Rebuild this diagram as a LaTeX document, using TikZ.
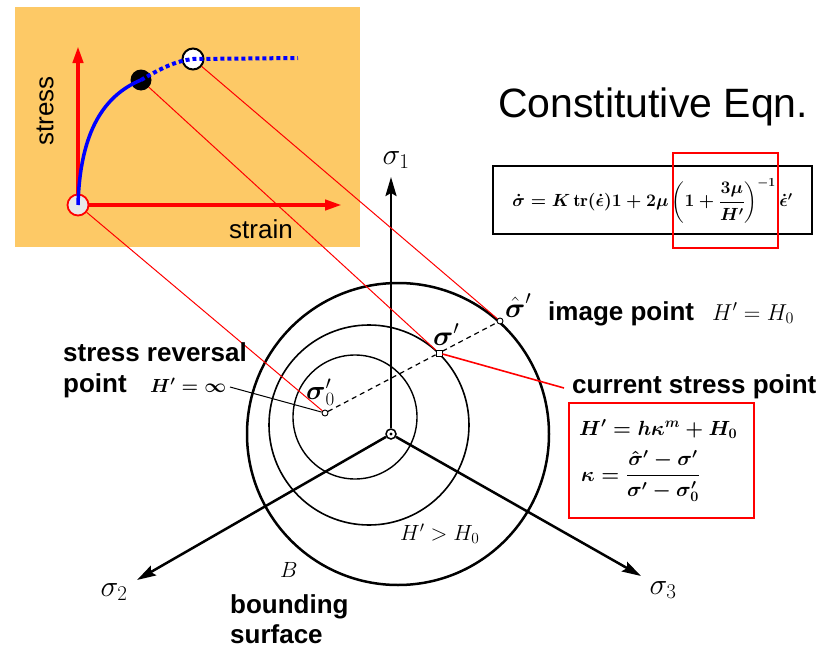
\RequirePackage{fix-cm}
\documentclass[tikz,border=0pt]{standalone}
\usepackage{amsmath}
\usepackage{fontspec}
\newfontfamily\arial{Liberation Sans}
\usetikzlibrary{arrows.meta}
\definecolor{bgorange}{RGB}{253,201,102}
\definecolor{origfill}{RGB}{232,232,232}
\newcommand{\fsz}[1]{\fontsize{#1}{#1}\selectfont}
\newcommand{\bsig}{\boldsymbol{\sigma}}
\newcommand{\beps}{\boldsymbol{\epsilon}}
\begin{document}
\begin{tikzpicture}[x=1pt,y=-1pt,
  redaxis/.style={draw=red,line width=4pt,-{Triangle[length=17pt,width=10pt]}},
  blackaxis/.style={draw=black,line width=2.5pt,-{Stealth[length=19pt,width=11pt,inset=3pt]}},
  markc/.style={circle,draw,fill=white,inner sep=0pt,minimum size=6pt,line width=0.9pt},
  marks/.style={rectangle,draw,fill=white,inner sep=0pt,minimum size=6pt,line width=0.9pt},
  txt/.style={inner sep=0pt},
  sanslbl/.style={txt,font=\arial\fsz{26}},
  boldlbl/.style={txt,font=\arial\bfseries\fsz{26}},
  redlink/.style={draw=red,line width=1pt},
  dashlink/.style={draw=black,line width=1.2pt,dash pattern=on 5pt off 4pt},
]
\useasboundingbox (0,0) rectangle (820,648);
\fill[white] (0,0) rectangle (820,648);

% ---------- stress-strain inset ----------
\fill[bgorange] (15,7) rectangle (360,247);
\node[circle,draw=red,fill=origfill,line width=1.8pt,minimum size=21pt,inner sep=0pt] (O) at (78,205) {};
\node[circle,fill=black,minimum size=21pt,inner sep=0pt] (P) at (141,80) {};
\coordinate (stressTip) at (78,46);
\coordinate (strainTip) at (342,205);
\draw[redaxis] (O) -- (stressTip);
\draw[redaxis] (O) -- (strainTip);
\draw[blue,line width=3.5pt] (O.center) .. controls (80,130) and (105,95) .. (P.center);
\node[circle,draw=black,fill=white,line width=2pt,minimum size=21pt,inner sep=0pt] (Q) at (193,59) {};
\coordinate (curveEnd) at (298,58);
\draw[blue,line width=4pt,dash pattern=on 4pt off 3pt] (P.center) .. controls (160,69) and (175,61) .. (Q.center) -- (curveEnd);
\node[sanslbl,rotate=90] (stressLbl) at (45,111) {stress};
\node[sanslbl] (strainLbl) at (261,229) {strain};

% ---------- title and constitutive equation ----------
\node[txt,anchor=base west,font=\arial\fsz{41}] (title) at (498,117) {Constitutive Eqn.};
\node[draw,line width=1.4pt,minimum width=319pt,minimum height=68pt,inner sep=0pt] (eqbox) at (652.5,200) {};
\node[txt,font=\fsz{17.6}] (eqtext) at (652.5,201) {$\boldsymbol{\dot{\sigma} = K\,\mathrm{tr}(\dot{\epsilon})1 + 2\mu\left(1+\dfrac{3\mu}{H'}\right)^{-1}\dot{\epsilon}'}$};
\node[draw=red,line width=2pt,minimum width=105pt,minimum height=95pt,inner sep=0pt] (hlbox) at (725.5,200.5) {};

% ---------- stress space ----------
\draw[line width=2.5pt] (398,434) circle[radius=151];
\draw[line width=1.6pt] (369,425) circle[radius=100];
\draw[line width=1.4pt] (355,417) circle[radius=62];

\node[circle,draw,fill=white,line width=1.5pt,minimum size=10pt,inner sep=0pt] (ctr) at (391,434) {};
\fill (ctr.center) circle[radius=1.6];
\coordinate (t1) at (391,177);
\coordinate (t2) at (137,580);
\coordinate (t3) at (641,576);
\draw[blackaxis] (ctr) -- (t1);
\draw[blackaxis] (ctr) -- (t2);
\draw[blackaxis] (ctr) -- (t3);
\node[txt,font=\fsz{30}] (l1) at (396,160) {$\sigma_1$};
\node[txt,font=\fsz{30}] (l2) at (114,592) {$\sigma_2$};
\node[txt,font=\fsz{30}] (l3) at (663,590) {$\sigma_3$};

\node[markc] (s0) at (325,413) {};
\node[marks] (sc) at (439,353) {};
\node[markc] (sh) at (500,321) {};
\draw[dashlink] (s0) -- (sc) -- (sh);

% red links from the inset
\draw[redlink] (O) -- (s0);
\draw[redlink] (P) -- (sc);
\draw[redlink] (Q) -- (sh);
\coordinate (cspEnd) at (564,388);
\draw[draw=red,line width=1.6pt] (sc) -- (cspEnd);

% point labels
\node[txt,anchor=base west,font=\fsz{28}] (lsc) at (433,345) {$\bsig'$};
\node[txt,anchor=base west,font=\fsz{28}] (lsh) at (505,317) {$\hat{\bsig}'$};
\node[txt,anchor=base west,font=\fsz{27}] (ls0) at (306,399) {$\bsig'_0$};

% stress reversal point
\node[boldlbl,anchor=base west] (srp1) at (63,361) {stress reversal};
\node[boldlbl,anchor=base west] (srp2) at (63,392) {point};
\node[txt,anchor=base west,font=\fsz{19}] (hinf) at (150,392) {$\boldsymbol{H' = \infty}$};
\coordinate (hinfEnd) at (230,387);
\draw[line width=1pt] (hinfEnd) -- (s0);

% image point
\node[boldlbl,anchor=base west] (imgLbl) at (548,320) {image point};
\node[txt,anchor=base west,font=\fsz{23}] (imgH) at (712,320) {$H' = H_0$};

% current stress point
\node[boldlbl,anchor=base west] (cspLbl) at (572,393) {current stress point};
\node[draw=red,line width=2pt,minimum width=185pt,minimum height=115pt,inner sep=0pt] (kbox) at (661.5,460.5) {};
\node[txt,anchor=base west,font=\fsz{20.5}] (kline1) at (579,435) {$\boldsymbol{H' = h\kappa^m + H_0}$};
\node[txt,anchor=base west,font=\fsz{20.5}] (kline2) at (581,481) {$\boldsymbol{\kappa = \dfrac{\hat{\sigma}'-\sigma'}{\sigma'-\sigma'_0}}$};

% other labels
\node[txt,anchor=base west,font=\fsz{22}] (hgt) at (400,540) {$H' > H_0$};
\node[txt,anchor=base west,font=\fsz{22}] (lB) at (280,577) {$B$};
\node[boldlbl,anchor=base west] (bs1) at (230,613) {bounding};
\node[boldlbl,anchor=base west] (bs2) at (230,643) {surface};
\end{tikzpicture}
\end{document}
